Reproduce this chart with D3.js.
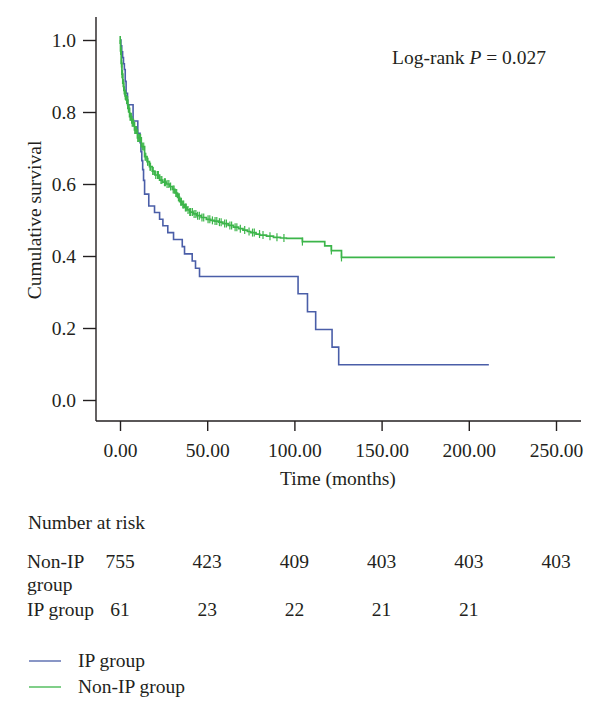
<!DOCTYPE html>
<html>
<head>
<meta charset="utf-8">
<script src="https://cdn.jsdelivr.net/npm/d3@7"></script>
<style>
  html, body { margin: 0; padding: 0; background: #fff; }
  svg { display: block; }
  text { font-family: "Liberation Serif", "DejaVu Serif", serif; fill: #231f20; }
</style>
</head>
<body>
<svg id="chart" width="600" height="720"></svg>
<script>
// ---------------- DATA ----------------
// IP group Kaplan-Meier step points (time in months, cumulative survival)
const ipTimes = [0, 0.5, 1.0, 1.5, 2.0, 2.5, 3.0, 3.5, 4.3, 7.5, 10.2, 11.5, 12.0, 12.5, 13.0, 13.5, 14.1, 16.5, 19.8, 22.7, 24.6, 27.4, 30.7, 35.7, 37.0, 41.4, 43.3, 45.6, 102.1, 107.5, 112.2, 121.6, 125.4, 211.5];
const ipSurv  = [1.0, 0.984, 0.967, 0.951, 0.934, 0.918, 0.885, 0.852, 0.820, 0.775, 0.741, 0.715, 0.690, 0.665, 0.640, 0.610, 0.572, 0.539, 0.521, 0.502, 0.484, 0.465, 0.446, 0.426, 0.406, 0.386, 0.366, 0.343, 0.295, 0.245, 0.196, 0.147, 0.098, 0.098];

// Non-IP group Kaplan-Meier step points
const nonIpTimes = [0, 0.3, 0.7, 1.1, 1.6, 2.2, 2.9, 3.6, 4.5, 5.5, 6.8, 8.3, 10.0, 12.2, 14.1, 15.5, 16.9, 18.5, 20.0, 22.7, 24.5, 26.5, 28.4, 30.0, 31.5, 33.0, 34.2, 35.5, 37.0, 38.5, 39.9, 42.0, 44.0, 46.5, 49.5, 52.0, 54.0, 56.5, 59.0, 62.0, 65.0, 68.0, 70.5, 73.0, 75.0, 78.0, 80.1, 84.0, 88.0, 92.0, 95.4, 104.6, 117.4, 121.2, 127.0, 249.4];
const nonIpSurv  = [1.0, 0.97, 0.935, 0.905, 0.88, 0.86, 0.845, 0.833, 0.81, 0.787, 0.77, 0.75, 0.728, 0.704, 0.676, 0.662, 0.648, 0.636, 0.625, 0.611, 0.605, 0.600, 0.593, 0.585, 0.575, 0.563, 0.551, 0.543, 0.535, 0.528, 0.522, 0.517, 0.512, 0.507, 0.502, 0.499, 0.497, 0.494, 0.490, 0.485, 0.480, 0.476, 0.472, 0.468, 0.465, 0.461, 0.458, 0.455, 0.452, 0.450, 0.449, 0.440, 0.428, 0.415, 0.396, 0.396];

// Censored observations (months) marked on the Non-IP curve
const nonIpCensor = [0.1, 0.2, 0.4, 0.5, 0.6, 0.8, 1.0, 1.2, 1.3, 1.5, 1.8, 2.0, 2.4, 2.6, 3.0, 3.2, 3.4, 3.8, 4.0, 4.4, 4.8, 5.0, 5.2, 5.8, 6.0, 6.5, 7.0, 7.4, 7.8, 8.5, 8.8, 9.5, 10.2, 10.5, 11.2, 11.8, 12.8, 13.6, 14.4, 14.8, 15.8, 16.0, 17.2, 17.5, 18.8, 19.0, 20.5, 21.5, 22.0, 23.5, 24.0, 25.5, 26.0, 27.0, 28.0, 29.0, 30.5, 31.0, 32.0, 32.5, 33.5, 34.0, 34.8, 35.2, 36.0, 36.5, 37.5, 38.0, 39.0, 40.0, 40.5, 41.5, 42.5, 43.5, 44.5, 45.5, 47.0, 48.0, 50.5, 51.5, 53.0, 54.5, 55.5, 57.0, 58.0, 60.0, 61.0, 63.0, 64.0, 66.0, 67.0, 69.0, 71.5, 74.0, 76.0, 77.0, 80.0, 82.0, 86.0, 90.0, 94.0, 104.6, 121.2, 127.0];

// Axes ticks
const xTicks = [0, 50, 100, 150, 200, 250];
const yTicks = [0, 0.2, 0.4, 0.6, 0.8, 1.0];

// Number at risk table
const riskTimes = [0, 50, 100, 150, 200, 250];
const riskNonIp = [755, 423, 409, 403, 403, 403];
const riskIp    = [61, 23, 22, 21, 21];

const groupNames = ["IP group", "Non-IP group"];
const logRankP = "0.027";

// ---------------- LAYOUT ----------------
const colors = { ip: "#4a5ea8", nonIp: "#3cb54a" };
const svg = d3.select("#chart");
svg.append("rect").attr("width", 600).attr("height", 720).attr("fill", "#fff");

const x = d3.scaleLinear().domain([0, 250]).range([120, 556]);
const y = d3.scaleLinear().domain([0, 1]).range([400, 40]);

const axisLeftX = 96, axisBottomY = 421;
const FS = 19.5;

// axis lines
svg.append("line").attr("x1", axisLeftX).attr("x2", axisLeftX).attr("y1", 17).attr("y2", axisBottomY)
  .attr("stroke", "#231f20").attr("stroke-width", 1.4);
svg.append("line").attr("x1", axisLeftX).attr("x2", 581).attr("y1", axisBottomY).attr("y2", axisBottomY)
  .attr("stroke", "#231f20").attr("stroke-width", 1.4);

// Y axis
const yAxis = svg.append("g").attr("transform", `translate(${axisLeftX},0)`)
  .call(d3.axisLeft(y).tickValues(yTicks).tickFormat(d3.format(".1f")).tickSize(13).tickPadding(7));
yAxis.select(".domain").remove();
yAxis.selectAll(".tick line").attr("stroke", "#231f20").attr("stroke-width", 1.4);
yAxis.selectAll(".tick text").style("font-family", "Liberation Serif").style("font-size", FS + "px").attr("fill", "#231f20");

// X axis
const xAxis = svg.append("g").attr("transform", `translate(0,${axisBottomY})`)
  .call(d3.axisBottom(x).tickValues(xTicks).tickFormat(d3.format(".2f")).tickSize(10).tickPadding(12));
xAxis.select(".domain").remove();
xAxis.selectAll(".tick line").attr("stroke", "#231f20").attr("stroke-width", 1.4);
xAxis.selectAll(".tick text").style("font-family", "Liberation Serif").style("font-size", FS + "px").attr("fill", "#231f20");

// axis titles
svg.append("text").attr("x", 338).attr("y", 485).attr("text-anchor", "middle")
  .style("font-size", FS + "px").text("Time (months)");
svg.append("text").attr("transform", "translate(41,220) rotate(-90)").attr("text-anchor", "middle")
  .style("font-size", FS + "px").text("Cumulative survival");

// curves
const line = d3.line().x(d => x(d[0])).y(d => y(d[1])).curve(d3.curveStepAfter);
const ipData = ipTimes.map((t, i) => [t, ipSurv[i]]);
const nonIpData = nonIpTimes.map((t, i) => [t, nonIpSurv[i]]);

svg.append("path").attr("d", line(ipData)).attr("fill", "none")
  .attr("stroke", colors.ip).attr("stroke-width", 1.6);
svg.append("path").attr("d", line(nonIpData)).attr("fill", "none")
  .attr("stroke", colors.nonIp).attr("stroke-width", 1.7);

// censor marks on Non-IP curve
const bis = d3.bisector(d => d).right;
function survAt(t) {
  const i = Math.max(0, bis(nonIpTimes, t) - 1);
  return nonIpSurv[i];
}
svg.append("g").selectAll("line").data(nonIpCensor).join("line")
  .attr("x1", d => x(d)).attr("x2", d => x(d))
  .attr("y1", d => y(survAt(d)) - 4).attr("y2", d => y(survAt(d)) + 4)
  .attr("stroke", colors.nonIp).attr("stroke-width", 1.2);

// log-rank annotation
const lr = svg.append("text").attr("x", 392).attr("y", 64).style("font-size", FS + "px");
lr.append("tspan").text("Log-rank ");
lr.append("tspan").style("font-style", "italic").text("P");
lr.append("tspan").text(" = " + logRankP);

// Number at risk
svg.append("text").attr("x", 28).attr("y", 529).style("font-size", FS + "px").text("Number at risk");
svg.append("text").attr("x", 27).attr("y", 568).style("font-size", FS + "px").text("Non-IP");
svg.append("text").attr("x", 27).attr("y", 591).style("font-size", FS + "px").text("group");
svg.append("text").attr("x", 27).attr("y", 616).style("font-size", FS + "px").text("IP group");

svg.append("g").selectAll("text").data(riskNonIp).join("text")
  .attr("x", (d, i) => x(riskTimes[i])).attr("y", 568).attr("text-anchor", "middle")
  .style("font-size", FS + "px").text(d => d);
svg.append("g").selectAll("text").data(riskIp).join("text")
  .attr("x", (d, i) => x(riskTimes[i])).attr("y", 616).attr("text-anchor", "middle")
  .style("font-size", FS + "px").text(d => d);

// legend
const legColors = [colors.ip, colors.nonIp];
const leg = svg.append("g");
groupNames.forEach((name, i) => {
  const cy = 661 + i * 26;
  leg.append("line").attr("x1", 29).attr("x2", 61).attr("y1", cy).attr("y2", cy)
    .attr("stroke", legColors[i]).attr("stroke-width", 1.3);
  leg.append("text").attr("x", 78).attr("y", cy + 6).style("font-size", FS + "px").text(name);
});
</script>
</body>
</html>
